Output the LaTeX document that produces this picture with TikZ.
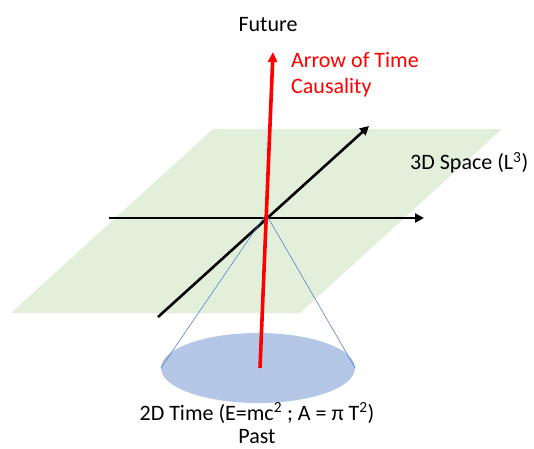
\documentclass[tikz,border=0pt]{standalone}
\usepackage{fontspec}
\setmainfont{Carlito}
\usetikzlibrary{arrows.meta,shapes.geometric}
\definecolor{planegreen}{RGB}{226,239,218}
\definecolor{diskblue}{RGB}{180,199,231}
\definecolor{conelineblue}{RGB}{68,114,196}
\definecolor{timered}{RGB}{255,0,0}
\tikzset{
  axis/.style={line width=2.6pt, -{Triangle[length=9pt,width=9pt]}},
  timearrow/.style={line width=3.6pt, timered, -{Triangle[length=10pt,width=9pt]}},
  coneline/.style={conelineblue, line width=0.5pt},
  lbl/.style={font=\fontsize{22}{26}\selectfont, inner sep=0pt},
}
\begin{document}
\begin{tikzpicture}[x=1pt,y=-1pt]
\useasboundingbox (0,0) rectangle (534,448);
% plane
\fill[planegreen] (213,129) -- (502,129) -- (300,313) -- (11,313) -- cycle;
% coordinates
\coordinate (O) at (266,218);
\coordinate (apex) at (266,214);
\coordinate (hstart) at (109,218);
\coordinate (hend) at (424,218);
\coordinate (dstart) at (158,317);
\coordinate (dend) at (369,126);
\coordinate (tstart) at (260,368);
\coordinate (tend) at (273,52);
% axes
\draw[axis] (hstart) -- (hend);
\draw[axis] (dstart) -- (dend);
% disk
\node[ellipse, fill=diskblue, minimum width=194pt, minimum height=70pt, inner sep=0pt] (disk) at (258,368) {};
\draw[coneline] (apex) -- (disk.west);
\draw[coneline] (apex) -- (disk.east);
% time arrow
\draw[timearrow] (tstart) -- (tend);
% labels
\node[lbl] (future) at (268,25) {Future};
\node[lbl, timered, anchor=west, align=left] (aot) at (291,75) {Arrow of Time\\Causality};
\node[lbl, anchor=west] (space) at (410,163) {3D Space (L\textsuperscript{3})};
\node[lbl] (time2d) at (257,413) {2D Time (E=mc\textsuperscript{2} ; A = π T\textsuperscript{2})};
\node[lbl] (past) at (257,437) {Past};
\end{tikzpicture}
\end{document}
